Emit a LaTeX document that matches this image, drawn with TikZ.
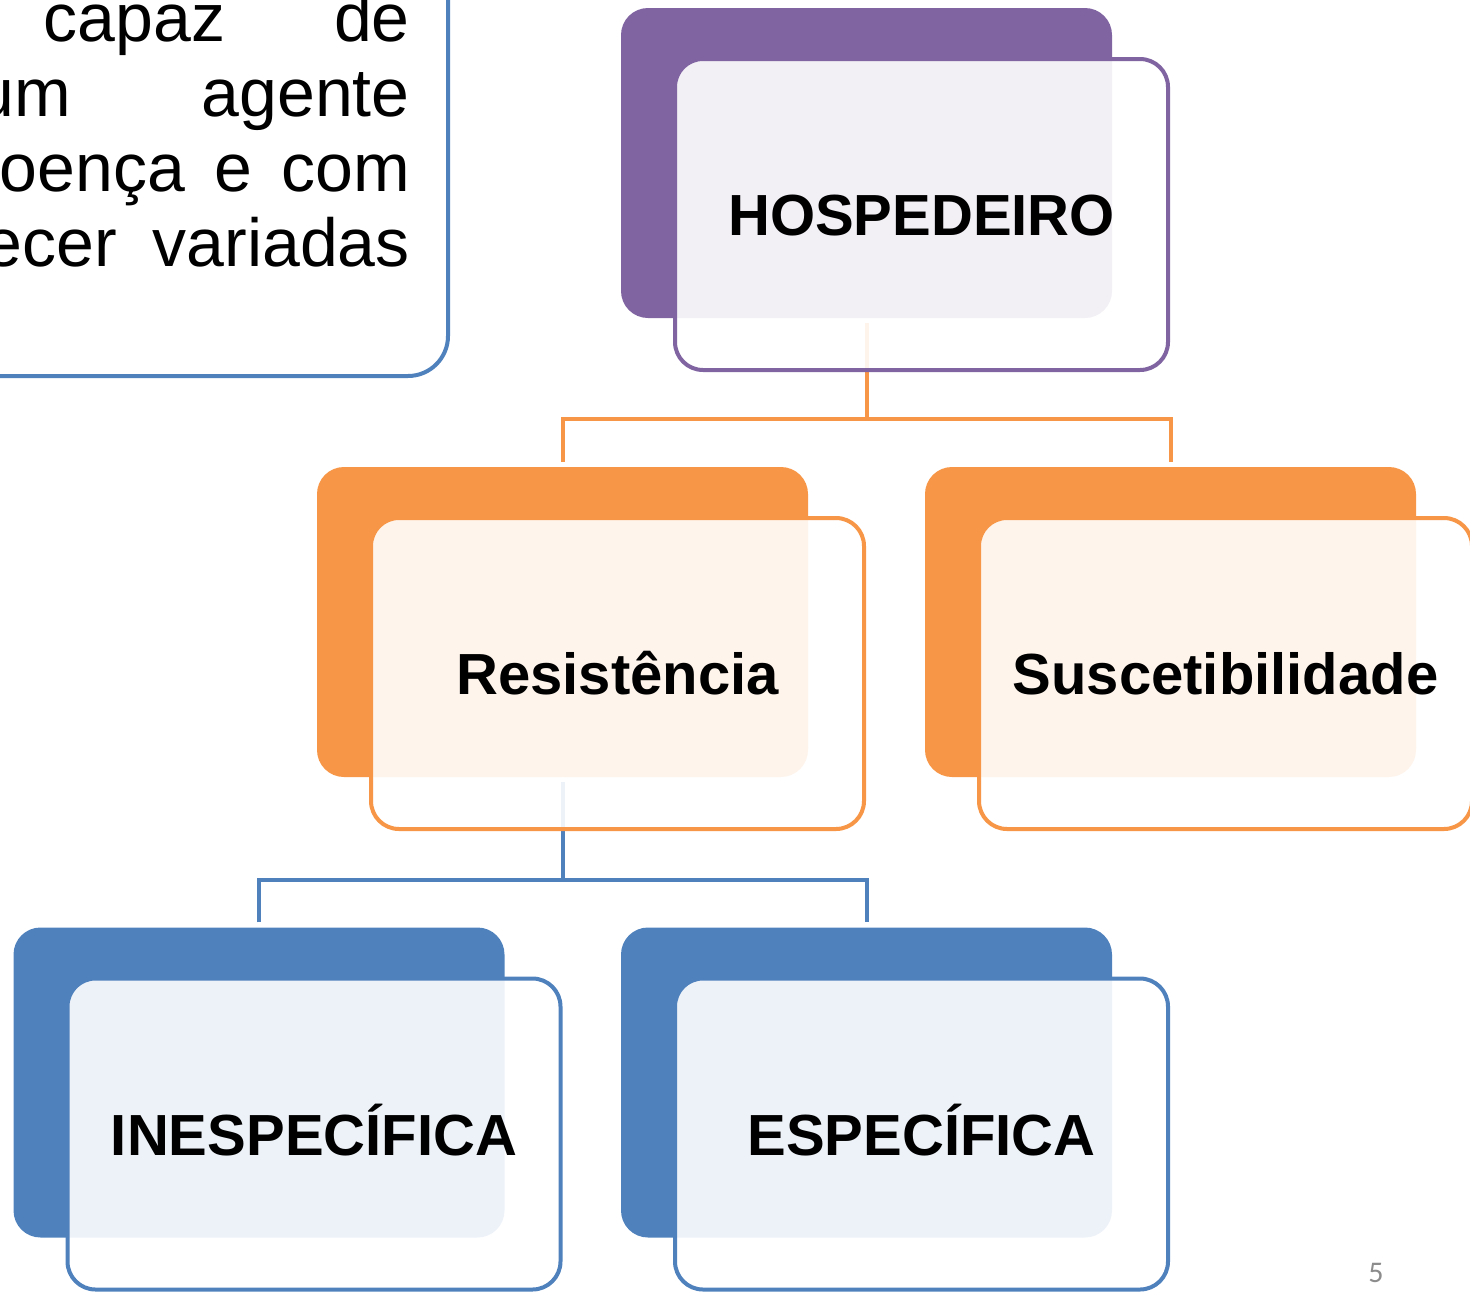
\documentclass[tikz,border=0pt]{standalone}
\usepackage{fontspec}
\setmainfont{Liberation Sans}
\newfontfamily\pagefont{Carlito}
\usepackage{tikz}
\usetikzlibrary{positioning,calc}
\definecolor{hostpurple}{HTML}{8064A2}
\definecolor{resorange}{HTML}{F79646}
\definecolor{specblue}{HTML}{4F81BD}
\definecolor{pagegray}{HTML}{8C8C8C}
\tikzstyle{back}=[rectangle, rounded corners=27pt, minimum width=491pt, minimum height=310pt, inner sep=0pt]
\tikzstyle{front}=[rectangle, rounded corners=28pt, minimum width=493pt, minimum height=311pt, inner sep=0pt, fill=white, fill opacity=.9, text opacity=1, line width=4pt, font=\fontsize{58}{60}\selectfont\bfseries, text height=42pt, text depth=0pt]
\tikzstyle{conn}=[line width=4pt]
\tikzstyle{body}=[inner sep=0pt, anchor=base east, font=\fontsize{68}{75}\selectfont]

\begin{document}
\begin{tikzpicture}[x=1pt, y=-1pt]

		\useasboundingbox (0,0) rectangle (1470,1291);
		\clip (0,0) rectangle (1470,1291);

		% text box at the left
		\draw[line width=4pt, specblue, rounded corners=40pt] (-60,-60) rectangle (448,376);
		\node[body] (l1) at (410,41) {\makebox[366pt]{capaz\hfill de}};
		\node[body] (l2) at (410,116) {\makebox[433pt]{um\hfill agente}};
		\node[body] (l3) at (410,191) {\makebox[410pt]{oença\hfill e\hfill com}};
		\node[body] (l4) at (410,266) {\makebox[425pt]{ecer\hfill variadas}};

		% back boxes
		\node[back, fill=hostpurple] (hosp-bk) at (866.5,163) {};
		\node[back, fill=resorange] (resist-bk) at (562.5,622) {};
		\node[back, fill=resorange] (susc-bk) at (1170.5,622) {};
		\node[back, fill=specblue] (inesp-bk) at (259,1082.5) {};
		\node[back, fill=specblue] (esp-bk) at (866.5,1082.5) {};

		% connectors
		\coordinate (j1) at ($(hosp-bk.south |- 0,372)!.5!(hosp-bk.south |- resist-bk.north)$);
		\draw[conn, resorange, shorten <=5pt] (hosp-bk.south) -- (j1);
		\draw[conn, resorange, shorten <=5pt, shorten >=5pt] (resist-bk.north) |- (j1) -| (susc-bk.north);

		\coordinate (j2) at ($(resist-bk.south |- 0,832)!.5!(resist-bk.south |- inesp-bk.north)$);
		\draw[conn, specblue, shorten <=5pt] (resist-bk.south) -- (j2);
		\draw[conn, specblue, shorten <=5pt, shorten >=5pt] (inesp-bk.north) |- (j2) -| (esp-bk.north);

		% front boxes
		\node[front, draw=hostpurple] (hosp) at ([shift={(55,51.5)}]hosp-bk.center) {HOSPEDEIRO};
		\node[front, draw=resorange] (resist) at ([shift={(55,51.5)}]resist-bk.center) {Resistência};
		\node[front, draw=resorange] (susc) at ([shift={(55,51.5)}]susc-bk.center) {Suscetibilidade};
		\node[front, draw=specblue] (inesp) at ([shift={(55,51.5)}]inesp-bk.center) {INESPECÍFICA};
		\node[front, draw=specblue] (esp) at ([shift={(55,51.5)}]esp-bk.center) {ESPECÍFICA};

		\node[font=\pagefont\fontsize{30}{30}\selectfont, text=pagegray] (pgnum) at (1376,1273) {5};

\end{tikzpicture}
\end{document}
